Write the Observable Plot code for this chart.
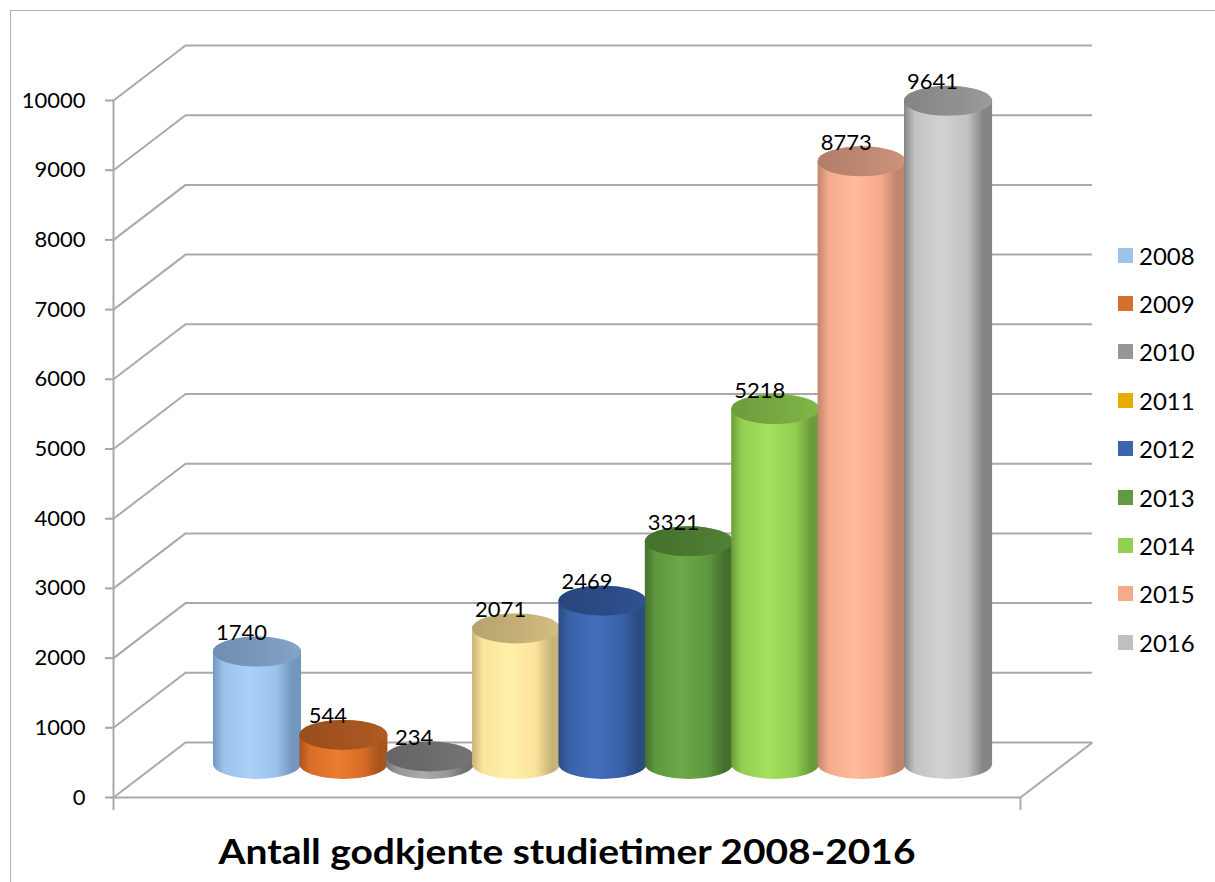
<!DOCTYPE html>
<html>
<head>
<meta charset="utf-8">
<script src="https://cdn.jsdelivr.net/npm/d3@7"></script>
<script src="https://cdn.jsdelivr.net/npm/@observablehq/plot@0.6"></script>
<style>
  html, body { margin: 0; padding: 0; background: #fff; }
  #wrap { position: relative; width: 1215px; height: 882px; overflow: hidden; background: #fff; }
  #border { position: absolute; left: 10px; top: 10px; width: 1400px; height: 1000px;
            border-left: 1.5px solid #b0b0b0; border-top: 1.5px solid #b0b0b0; }
  #chart { position: absolute; left: 0; top: 0; }
  #chart svg [aria-label="y-axis tick"] { stroke: #a6a6a6; stroke-width: 2px; }
  #chart svg .tick line { stroke: #a6a6a6; stroke-width: 2px; }
  #legend { position: absolute; left: 1118px; top: 231px; }
  #legend > div { display: flex !important; flex-direction: column !important; align-items: flex-start !important;
                  margin: 0 !important; min-height: 0 !important; font-family: Lato, sans-serif; font-size: 24px; color: #000; }
  #legend > div > span { display: flex !important; align-items: center !important; height: 48.4px; margin: 0 !important; }
  #legend > div > span > svg { margin-right: 6px !important; }
</style>
</head>
<body>
<div id="wrap">
  <div id="border"></div>
  <div id="chart"></div>
  <div id="legend"></div>
</div>
<script>
// ---- data ----
const years = ["2008", "2009", "2010", "2011", "2012", "2013", "2014", "2015", "2016"];
const values = [1740, 544, 234, 2071, 2469, 3321, 5218, 8773, 9641];
const yTicks = [0, 1000, 2000, 3000, 4000, 5000, 6000, 7000, 8000, 9000, 10000];
const legendColors = ["#9dc3e6", "#d4702b", "#969696", "#e6ac00", "#3d64ad", "#629a41", "#92d050", "#f4aa8c", "#bfbfbf"];
const lightColors = ["#aad1f7", "#ea7d31", "#ababab", "#fff1aa", "#426fbc", "#6ba948", "#a2e05e", "#ffbb9c", "#d2d2d2"];
const baseColors  = ["#9cc2ea", "#d96d26", "#959595", "#fbe39a", "#3962a9", "#5f973f", "#93d052", "#f5a98a", "#c2c2c2"];
const darkColors  = ["#7396bf", "#a9541c", "#6e6e6e", "#c9b477", "#2a4a82", "#456f2d", "#6c9c3a", "#c0856c", "#858585"];
const topColors   = ["#7a9abd", "#a5551f", "#6d6d6d", "#c6b278", "#2c4c87", "#4b7a31", "#78aa43", "#c08a73", "#909090"];
const title = "Antall godkjente studietimer 2008-2016";

const rows = years.map((year, i) => ({year, i, value: values[i]}));

// ---- layout ----
const W = 1215, H = 882;
const mL = 113, mR = 195, mT = 100, mB = 85;
const X0 = -1.25, X1 = 9.25;          // x extent of the floor (in cylinder slots)
const pxPerX = (W - mL - mR) / (X1 - X0);
const pxPerY = (H - mT - mB) / 10000;
const DX = 72 / pxPerX;               // depth offset in x units
const DY = 55 / pxPerY;               // depth offset in value units
const grid = "#a9a9a9";

function cylinders(index, scales) {
  const {x, y} = scales;
  const g = d3.create("svg:g");
  const defs = g.append("defs");
  rows.forEach((r) => {
    const i = r.i;
    const gb = defs.append("linearGradient").attr("id", "cylb" + i)
      .attr("x1", 0).attr("x2", 1).attr("y1", 0).attr("y2", 0);
    [[0, darkColors[i]], [0.12, baseColors[i]], [0.42, lightColors[i]], [0.72, baseColors[i]], [0.9, darkColors[i]], [1, darkColors[i]]]
      .forEach(([o, c]) => gb.append("stop").attr("offset", o).attr("stop-color", c));
    const gt = defs.append("linearGradient").attr("id", "cylt" + i)
      .attr("x1", 0).attr("x2", 1).attr("y1", 0).attr("y2", 0);
    [[0, d3.color(topColors[i]).darker(0.25)], [0.6, topColors[i]], [1, d3.color(topColors[i]).brighter(0.2)]]
      .forEach(([o, c]) => gt.append("stop").attr("offset", o).attr("stop-color", c));

    const cx = x(i + DX * 0.5);
    const rx = x(i + 0.51) - x(i);
    const ry = 15;
    const yb = y(DY * 0.6);
    const yt = y(r.value + DY * 0.44);
    g.append("rect")
      .attr("x", cx - rx).attr("y", yt - ry)
      .attr("width", 2 * rx).attr("height", (yb - yt) + 2 * ry)
      .attr("rx", rx).attr("ry", ry)
      .attr("fill", `url(#cylb${i})`);
    g.append("ellipse")
      .attr("cx", cx).attr("cy", yt).attr("rx", rx).attr("ry", ry)
      .attr("fill", `url(#cylt${i})`);
  });
  return g.node();
}

const chart = Plot.plot({
  width: W, height: H,
  marginLeft: mL, marginRight: mR, marginTop: mT, marginBottom: mB,
  style: {fontFamily: "Lato, sans-serif", fontSize: "22px", color: "#000", background: "transparent"},
  x: {type: "linear", domain: [X0, X1], axis: null},
  y: {type: "linear", domain: [0, 10000], ticks: yTicks, tickSize: 8, tickPadding: 20,
      tickFormat: d => String(d), label: null},
  marks: [
    // back wall gridlines
    Plot.ruleY(yTicks, {y: t => t + DY, x1: X0 + DX, x2: X1 + DX, stroke: grid, strokeWidth: 2}),
    // side wall diagonals
    Plot.link(yTicks, {x1: X0, y1: t => t, x2: X0 + DX, y2: t => t + DY, stroke: grid, strokeWidth: 2}),
    // floor front edge & right edge
    Plot.ruleY([0], {x1: X0, x2: X1, stroke: grid, strokeWidth: 2}),
    Plot.link([0], {x1: X1, y1: 0, x2: X1 + DX, y2: DY, stroke: grid, strokeWidth: 2}),
    // vertical axis line and category ticks
    Plot.ruleX([X0], {y1: 0, y2: 10000, stroke: grid, strokeWidth: 2}),
    Plot.ruleX([X0, X1], {y1: 0, y2: 0, insetTop: 0, insetBottom: -13, stroke: grid, strokeWidth: 2}),
    // cylinders
    cylinders,
    // data labels
    Plot.text(rows, {x: d => d.i + DX * 0.5, y: d => d.value + DY * 0.44, text: d => String(d.value),
                     dx: -16, dy: -12, lineAnchor: "bottom", fontSize: 22, fill: "#000"}),
    // title
    Plot.text([title], {text: d => d, frameAnchor: "bottom", dy: 66, lineAnchor: "bottom",
                        fontSize: 35, fontWeight: "bold", fill: "#000"})
  ]
});

chart.querySelectorAll("text").forEach(t => {
  if (t.textContent === title) {
    t.setAttribute("textLength", 697);
    t.setAttribute("lengthAdjust", "spacingAndGlyphs");
  }
});
document.getElementById("chart").appendChild(chart);

const legend = Plot.legend({
  color: {type: "ordinal", domain: years, range: legendColors},
  legend: "swatches", swatchSize: 15,
  style: {fontFamily: "Lato, sans-serif", fontSize: "24px", color: "#000"}
});
document.getElementById("legend").appendChild(legend);
</script>
</body>
</html>
